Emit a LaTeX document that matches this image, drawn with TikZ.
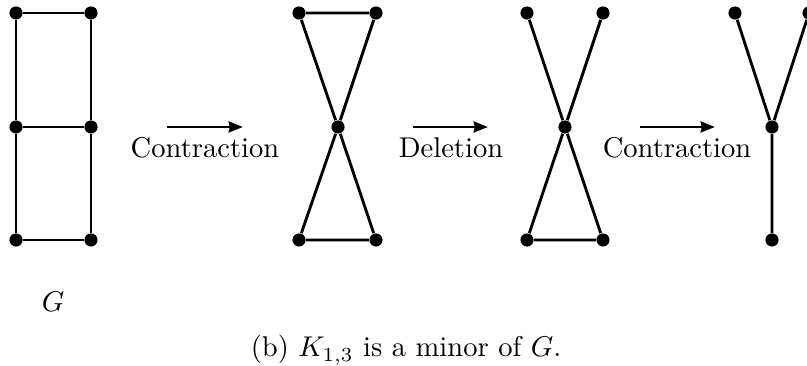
\documentclass[tikz,border=0pt]{standalone}
\usetikzlibrary{arrows.meta}
\begin{document}
\begin{tikzpicture}[x=0.35pt,y=-0.35pt,
  vtx/.style={circle,fill=black,inner sep=0pt,minimum size=4.6pt},
  edge/.style={line width=1pt},
  op/.style={line width=1pt,-{Stealth[length=5pt,width=3.8pt,inset=0.4pt]}},
  lbl/.style={anchor=base,inner sep=0pt}]
\useasboundingbox (0,0) rectangle (807,366);
% graph G
\node[vtx] (a1) at (16,13) {};
\node[vtx] (a2) at (91,13) {};
\node[vtx] (a3) at (16,127) {};
\node[vtx] (a4) at (91,127) {};
\node[vtx] (a5) at (16,240) {};
\node[vtx] (a6) at (91,240) {};
\draw[edge] (a1) -- (a2) (a3) -- (a4) (a5) -- (a6) (a1) -- (a3) -- (a5) (a2) -- (a4) -- (a6);
\node[lbl] (g) at (53,312) {$G$};
% arrow 1
\coordinate (s1) at (167,127);
\coordinate (e1) at (243,127);
\draw[op] (s1) -- (e1);
\node[lbl] (c1) at (205,158) {Contraction};
% graph 2
\node[vtx] (b1) at (299,13) {};
\node[vtx] (b2) at (376,13) {};
\node[vtx] (b0) at (338,127) {};
\node[vtx] (b3) at (299,240) {};
\node[vtx] (b4) at (376,240) {};
\draw[edge] (b1) -- (b2) (b3) -- (b4) (b1) -- (b0) -- (b4) (b2) -- (b0) -- (b3);
% arrow 2
\coordinate (s2) at (413,127);
\coordinate (e2) at (488,127);
\draw[op] (s2) -- (e2);
\node[lbl] (c2) at (451,158) {Deletion};
% graph 3
\node[vtx] (d1) at (527,13) {};
\node[vtx] (d2) at (603,13) {};
\node[vtx] (d0) at (565,127) {};
\node[vtx] (d3) at (527,240) {};
\node[vtx] (d4) at (603,240) {};
\draw[edge] (d3) -- (d4) (d1) -- (d0) -- (d4) (d2) -- (d0) -- (d3);
% arrow 3
\coordinate (s3) at (640,127);
\coordinate (e3) at (715,127);
\draw[op] (s3) -- (e3);
\node[lbl] (c3) at (677,158) {Contraction};
% graph 4
\node[vtx] (f1) at (735,13) {};
\node[vtx] (f2) at (809,13) {};
\node[vtx] (f0) at (772,127) {};
\node[vtx] (f3) at (772,240) {};
\draw[edge] (f1) -- (f0) -- (f2) (f0) -- (f3);
% caption
\node[lbl] (cap) at (406,357) {(b) $K_{1,3}$ is a minor of $G$.};
\end{tikzpicture}
\end{document}
